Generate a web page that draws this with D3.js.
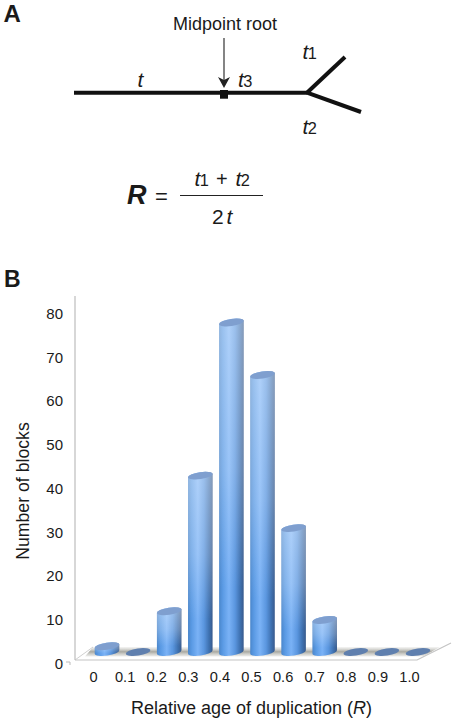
<!DOCTYPE html>
<html><head><meta charset="utf-8">
<script src="https://cdn.jsdelivr.net/npm/d3@7/dist/d3.min.js"></script>
<style>html,body{margin:0;padding:0;background:#fff}svg{display:block}text{font-family:"Liberation Sans",Arial,sans-serif;fill:#1a1a1a}</style>
</head><body><script>
const categories=["0","0.1","0.2","0.3","0.4","0.5","0.6","0.7","0.8","0.9","1.0"];
const blocks=[2,0,10,41,76,64,29,8,0,0,0];
const yTicks=[0,10,20,30,40,50,60,70,80];
const W=456,H=723;
const svg=d3.select("body").append("svg").attr("width",W).attr("height",H);
const defs=svg.append("defs");
function grad(id,stops,v){const g=defs.append("linearGradient").attr("id",id).attr("x1",0).attr("y1",0).attr("x2",v?0:1).attr("y2",v?1:0);
 stops.forEach(s=>g.append("stop").attr("offset",s[0]).attr("stop-color",s[1]).attr("stop-opacity",s[2]===undefined?1:s[2]));}
grad("side",[[0,"#4a86cb"],[.15,"#5a9ae4"],[.4,"#7ab2f6"],[.65,"#5a96df"],[.85,"#3f72b2"],[1,"#375a8c"]]);
grad("sheen",[[0,"#ffffff",.4],[.45,"#ffffff",.24],[.8,"#ffffff",0],[1,"#ffffff",0]],true);
grad("shadow",[[0,"#c8c8c2",.2],[.5,"#a8a8a1",1],[1,"#c4c4be",.3]],true);
defs.append("filter").attr("id","soft").append("feGaussianBlur").attr("stdDeviation",.45);

// Panel A
const t=(s,x,y,size,o={})=>svg.append("text").attr("x",x).attr("y",y).attr("font-size",size)
 .attr("text-anchor",o.a||"start").attr("font-weight",o.w||null).attr("font-style",o.i?"italic":null).text(s);
t("A",3.5,22,24,{w:"bold"});
t("B",4,287,23,{w:"bold"});
t("Midpoint root",225,30,18,{a:"middle"});
const thick=[[[74,92.7],[307,92.7]],[[307,92.7],[345,57]],[[307,92.7],[361,112]]];
const line=d3.line();
svg.selectAll("path.tree").data(thick).join("path").attr("class","tree").attr("d",line).attr("fill","none").attr("stroke","#111").attr("stroke-width",4);
svg.append("rect").attr("x",220).attr("y",90).attr("width",8).attr("height",8.7).attr("fill","#111");
svg.append("path").attr("d",line([[224,38],[224,84]])).attr("stroke","#333").attr("stroke-width",1.2);
svg.append("path").attr("d",line([[218,77],[224,88],[230,77],[224,80]])+"Z").attr("fill","#222");
function sub(base,s,x,y,size){const e=t("",x,y,size);e.append("tspan").attr("font-style","italic").text(base);e.append("tspan").attr("font-size",size*.78).attr("dx",-.5).text(s);return e;}
t("t",137.5,87,21,{i:1});
sub("t","3",238,87,21);
sub("t","1",302.5,59,21);
sub("t","2",302.5,134,21);
t("R",127,204,27,{w:"bold",i:1});
t("=",155,204,22);
sub("t","1",194.5,186,21);
t("+",216,186,20);
sub("t","2",235.5,186,21);
svg.append("path").attr("d",line([[180,195.5],[263,195.5]])).attr("stroke","#222").attr("stroke-width",1.2);
t("2",212,224,21);t("t",226.5,224,21,{i:1});

// Panel B
const y=d3.scaleLinear().domain([0,80]).range([663,313]);
const topDepth=8,baseDepth=11;
const xLabel=d3.scalePoint().domain(categories).range([93,409]);
const xBar=d3.scalePoint().domain(categories).range([107,418]);
const rx=12.4,ry=3.5,tilt=-8;
// floor
svg.append("path").attr("d",line([[75,660],[417,660],[451,643]])).attr("fill","none").attr("stroke","#c4c4c4").attr("stroke-width",1.2);
svg.append("path").attr("d",line([[75,660],[93,647]])).attr("fill","none").attr("stroke","#d0d0d0").attr("stroke-width",1);
svg.append("path").attr("d",line([[75,660],[75,296]])).attr("fill","none").attr("stroke","#bcbcbc").attr("stroke-width",1.2);
svg.append("path").attr("d",line([[66,662],[70,662],[70,665]])).attr("fill","none").attr("stroke","#bbb");
svg.append("path").attr("d",line([[85,656.5],[93,647],[440,647],[423,656.5]])+"Z").attr("fill","url(#shadow)").attr("filter","url(#soft)");

const ax=svg.append("g").call(d3.axisLeft(y).tickValues(yTicks).tickSize(0).tickPadding(0).tickFormat(d3.format("d")));
ax.select(".domain").remove();
ax.selectAll("text").attr("x",63).attr("text-anchor","end").attr("dy",".36em").attr("font-size",15).style("font-family",'"Liberation Sans",Arial,sans-serif');
svg.append("g").attr("transform","translate(0,682)").call(d3.axisBottom(xLabel).tickSize(0).tickPadding(0))
 .call(g=>g.select(".domain").remove())
 .selectAll("text").attr("y",0).attr("dy",0).attr("font-size",14.6).style("font-family",'"Liberation Sans",Arial,sans-serif');

const base=y(0)-baseDepth;
const topY=v=>v>0?y(v)-topDepth:base;
const bars=svg.append("g").attr("filter","url(#soft)").selectAll("g.bar").data(categories.map((c,i)=>({c,v:blocks[i]}))).join("g").attr("class","bar").attr("transform",d=>`translate(${xBar(d.c)},0)`);
const rad=tilt*Math.PI/180, dy=rx*Math.sin(rad), ex=rx*Math.cos(rad);
function body(d){const top=topY(d.v);
 return `M${-ex},${top-dy}L${-ex},${base-dy}A${rx},${ry} ${tilt} 0 0 ${ex},${base+dy}L${ex},${top+dy}A${rx},${ry} ${tilt} 0 0 ${-ex},${top-dy}Z`;}
const tall=bars.filter(d=>d.v>0);
tall.append("path").attr("d",body).attr("fill","url(#side)");
tall.append("path").attr("d",body).attr("fill","url(#sheen)");
bars.append("ellipse").attr("rx",rx).attr("ry",ry)
 .attr("transform",d=>`translate(0,${topY(d.v)}) rotate(${tilt})`)
 .attr("fill",d=>d.v>0?"#7f9fcf":"#5f7fae");

t("Number of blocks",0,0,17.7,{a:"middle"}).attr("transform","translate(29,491) rotate(-90)");
const xt=t("Relative age of duplication (",251.5,714,18,{a:"middle"});
xt.append("tspan").attr("font-style","italic").text("R");xt.append("tspan").text(")");
</script></body></html>
